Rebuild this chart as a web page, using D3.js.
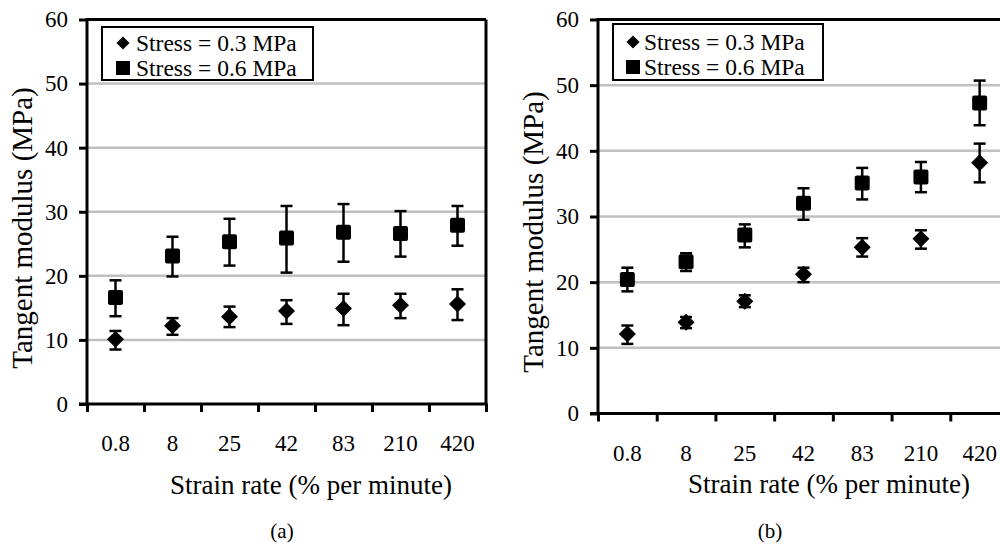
<!DOCTYPE html>
<html>
<head>
<meta charset="utf-8">
<script src="https://cdn.jsdelivr.net/npm/d3@7"></script>
<style>
  html, body { margin: 0; padding: 0; background: #fff; }
  svg { display: block; }
  svg text { font-family: "Liberation Serif", Tinos, "Times New Roman", Times, "DejaVu Serif", serif !important; }
</style>
</head>
<body>
<svg id="fig" width="1000" height="546"></svg>
<script>
// Strain-rate categories (% per minute)
const strainRates = ["0.8", "8", "25", "42", "83", "210", "420"];
const yTicks = [0, 10, 20, 30, 40, 50, 60];
const seriesNames = ["Stress = 0.3 MPa", "Stress = 0.6 MPa"];

// Panel (a): tangent modulus (MPa) with error bar limits
const a03 = [10.1, 12.2, 13.6, 14.5, 14.9, 15.4, 15.6];
const a03Lo = [8.5, 10.8, 12.0, 12.5, 12.3, 13.4, 13.1];
const a03Hi = [11.4, 13.4, 15.2, 16.2, 17.2, 17.2, 17.9];
const a06 = [16.6, 23.1, 25.3, 25.9, 26.8, 26.6, 27.9];
const a06Lo = [13.7, 19.9, 21.6, 20.5, 22.2, 23.0, 24.7];
const a06Hi = [19.3, 26.1, 28.9, 30.9, 31.2, 30.1, 30.9];

// Panel (b)
const b03 = [12.1, 13.9, 17.1, 21.2, 25.3, 26.6, 38.2];
const b03Lo = [10.6, 13.0, 16.2, 20.0, 23.9, 25.1, 35.2];
const b03Hi = [13.4, 14.7, 18.0, 22.2, 26.7, 27.9, 41.1];
const b06 = [20.4, 23.1, 27.2, 32.0, 35.1, 36.0, 47.3];
const b06Lo = [18.6, 21.7, 25.3, 29.5, 32.6, 33.7, 43.9];
const b06Hi = [22.2, 24.4, 28.8, 34.3, 37.4, 38.3, 50.7];

const FONT = "Liberation Serif, Tinos, Times New Roman, DejaVu Serif, serif";
const svg = d3.select("#fig");

function series(vals, lo, hi) {
  return vals.map((v, i) => ({ cat: strainRates[i], v, lo: lo[i], hi: hi[i] }));
}

const diamond = d3.symbol().type(d3.symbolDiamond2).size(185);

function panel(cfg) {
  const g = svg.append("g").attr("font-family", FONT);
  const x = d3.scaleBand().domain(strainRates).range([cfg.left, cfg.right]).padding(0);
  const xb = d3.scaleLinear().domain([0, strainRates.length]).range([cfg.left, cfg.right]);
  const y = d3.scaleLinear().domain([0, 60]).range([cfg.bottom, cfg.top]);

  // horizontal gridlines
  g.append("g").selectAll("line").data(yTicks.filter(t => t > 0 && t < 60)).join("line")
    .attr("x1", cfg.left).attr("x2", cfg.right)
    .attr("y1", d => y(d)).attr("y2", d => y(d))
    .attr("stroke", "#c0c0c0").attr("stroke-width", 2.5);

  // plot frame (top and right)
  g.append("line").attr("x1", cfg.left).attr("x2", cfg.right)
    .attr("y1", y(60)).attr("y2", y(60)).attr("stroke", "#000").attr("stroke-width", 3);
  g.append("line").attr("x1", cfg.right).attr("x2", cfg.right)
    .attr("y1", y(60)).attr("y2", y(0)).attr("stroke", "#000").attr("stroke-width", 3);

  // y axis
  const ya = g.append("g").attr("transform", `translate(${cfg.left},0)`)
    .call(d3.axisLeft(y).tickValues(yTicks).tickSize(8).tickPadding(11).tickFormat(d3.format("d")));
  ya.attr("font-family", FONT);
  ya.select(".domain").attr("stroke-width", 3).attr("d", `M0,${y(0) + 1.5}V${y(60) - 1.5}`);
  ya.selectAll(".tick line").attr("stroke-width", 3);
  ya.selectAll(".tick text").attr("font-size", 23).attr("font-family", FONT).attr("fill", "#000");

  // x axis: tick marks at category boundaries
  const xt = g.append("g").attr("transform", `translate(0,${y(0)})`)
    .call(d3.axisBottom(xb).tickValues(d3.range(strainRates.length + 1)).tickSize(8).tickFormat(""));
  xt.select(".domain").attr("stroke-width", 3).attr("d", `M${cfg.left - 8},0H${cfg.right + 1.5}`);
  xt.selectAll(".tick line").attr("stroke-width", 3);

  // x labels centred in categories
  const xl = g.append("g").attr("transform", `translate(0,${cfg.labelY})`)
    .call(d3.axisBottom(x).tickSize(0).tickPadding(0));
  xl.attr("font-family", FONT);
  xl.select(".domain").remove();
  xl.selectAll(".tick text").attr("font-size", 23).attr("font-family", FONT)
    .attr("fill", "#000").attr("dy", "0.35em");

  // error bars + markers
  const draw = (data, shape) => {
    const eg = g.append("g");
    const items = eg.selectAll("g").data(data).join("g")
      .attr("transform", d => `translate(${x(d.cat) + x.bandwidth() / 2},0)`);
    items.append("line").attr("y1", d => y(d.lo)).attr("y2", d => y(d.hi))
      .attr("stroke", "#000").attr("stroke-width", 2.5);
    items.append("line").attr("x1", -6).attr("x2", 6).attr("y1", d => y(d.lo)).attr("y2", d => y(d.lo))
      .attr("stroke", "#000").attr("stroke-width", 2.5);
    items.append("line").attr("x1", -6).attr("x2", 6).attr("y1", d => y(d.hi)).attr("y2", d => y(d.hi))
      .attr("stroke", "#000").attr("stroke-width", 2.5);
    if (shape === "diamond") {
      items.append("path").attr("d", diamond)
        .attr("transform", d => `translate(0,${y(d.v)})`).attr("fill", "#000");
    } else {
      items.append("rect").attr("x", -7.5).attr("width", 15).attr("height", 15)
        .attr("y", d => y(d.v) - 7.5).attr("rx", 2).attr("fill", "#000");
    }
  };
  draw(cfg.s03, "diamond");
  draw(cfg.s06, "square");

  // legend
  const lg = g.append("g");
  lg.append("rect").attr("x", cfg.leg.x).attr("y", cfg.leg.y).attr("width", cfg.leg.w).attr("height", cfg.leg.h)
    .attr("fill", "#fff").attr("stroke", "#000").attr("stroke-width", 2);
  lg.append("path").attr("d", d3.symbol().type(d3.symbolDiamond2).size(110))
    .attr("transform", `translate(${cfg.leg.mx},${cfg.leg.r1})`).attr("fill", "#000");
  lg.append("rect").attr("x", cfg.leg.mx - 7).attr("y", cfg.leg.r2 - 7).attr("width", 14).attr("height", 14)
    .attr("fill", "#000");
  lg.selectAll("text").data(seriesNames).join("text")
    .attr("x", cfg.leg.tx).attr("y", (d, i) => i === 0 ? cfg.leg.r1 : cfg.leg.r2)
    .attr("dy", "0.35em").attr("font-size", 23.5).attr("fill", "#000").text(d => d);

  // axis titles and panel label
  g.append("text").attr("transform", `translate(${cfg.yTitle[0]},${cfg.yTitle[1]}) rotate(-90)`)
    .attr("text-anchor", "middle").attr("dy", "0.35em").attr("font-size", 29).text("Tangent modulus (MPa)");
  g.append("text").attr("x", cfg.xTitle[0]).attr("y", cfg.xTitle[1]).attr("text-anchor", "middle")
    .attr("dy", "0.35em").attr("font-size", 27).text("Strain rate (% per minute)");
  g.append("text").attr("x", cfg.tag[0]).attr("y", cfg.tag[1]).attr("text-anchor", "middle")
    .attr("dy", "0.35em").attr("font-size", 21).text(cfg.tagText);
}

panel({
  left: 87, right: 486, top: 19.5, bottom: 404, labelY: 443,
  s03: series(a03, a03Lo, a03Hi), s06: series(a06, a06Lo, a06Hi),
  leg: { x: 102, y: 27, w: 211, h: 53, mx: 123, tx: 136, r1: 43, r2: 68 },
  yTitle: [22, 228], xTitle: [311, 485], tag: [282, 531], tagText: "(a)"
});

panel({
  left: 598, right: 1009, top: 19.5, bottom: 413.5, labelY: 453,
  s03: series(b03, b03Lo, b03Hi), s06: series(b06, b06Lo, b06Hi),
  leg: { x: 613, y: 24, w: 210, h: 56, mx: 633, tx: 644, r1: 42, r2: 67 },
  yTitle: [533, 232], xTitle: [829, 484], tag: [770, 531], tagText: "(b)"
});
</script>
</body>
</html>
